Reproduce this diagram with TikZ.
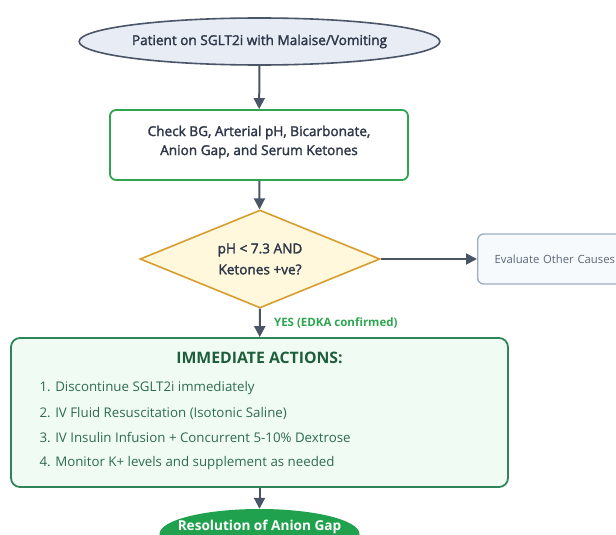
\documentclass[tikz,border=0pt]{standalone}
\usepackage{fontspec}
\setmainfont{Open Sans}
\newfontfamily\semib{Open Sans}[FakeBold=2]
\usetikzlibrary{shapes.geometric,arrows.meta}
\definecolor{slate}{HTML}{4A5568}
\definecolor{ink}{HTML}{2D3748}
\definecolor{startfill}{HTML}{E8EDF5}
\definecolor{grn}{HTML}{2FA550}
\definecolor{dgrn}{HTML}{2F855A}
\definecolor{actfill}{HTML}{F0FBF3}
\definecolor{acttitle}{HTML}{1F5E3A}
\definecolor{acttext}{HTML}{2E6B4F}
\definecolor{decfill}{HTML}{FFF8DC}
\definecolor{decline}{HTML}{D69E2E}
\definecolor{grayline}{HTML}{A0AEC0}
\definecolor{grayfill}{HTML}{F7FAFC}
\definecolor{graytext}{HTML}{5A6678}
\definecolor{endfill}{HTML}{1FA14D}
\tikzset{
  conn/.style={draw=slate, line width=2pt, -{Triangle[width=11pt,length=11pt]}},
  startell/.style={ellipse, draw=slate, fill=startfill, line width=1.6pt, minimum width=303pt, minimum height=47pt, inner sep=0pt, text=ink, font=\semib\fontsize{13.6}{16}\selectfont},
  checkbox/.style={rectangle, rounded corners=6pt, draw=grn, fill=white, line width=1.8pt, minimum width=298pt, minimum height=70pt},
  checktext/.style={align=center, text=ink, font=\semib\fontsize{13.6}{19}\selectfont},
  decbox/.style={diamond, draw=decline, fill=decfill, line width=1.6pt, minimum width=240pt, minimum height=98pt, inner sep=0pt},
  dectext/.style={align=center, text=ink, font=\semib\fontsize{13.6}{21}\selectfont},
  otherbox/.style={rectangle, rounded corners=6pt, draw=grayline, fill=grayfill, line width=1.4pt, text width=150pt, inner xsep=17pt, minimum height=50pt, inner ysep=0pt, align=left, text=graytext, font=\fontsize{11.3}{13}\selectfont},
  actbox/.style={rectangle, rounded corners=9pt, draw=dgrn, fill=actfill, line width=1.8pt, minimum width=497pt, minimum height=149pt},
  acttitlest/.style={text=acttitle, font=\bfseries\fontsize{15.8}{18}\selectfont},
  actitem/.style={anchor=west, text=acttext, font=\fontsize{13.3}{15}\selectfont},
  endell/.style={ellipse, fill=endfill, minimum width=200pt, minimum height=50pt, inner sep=0pt},
}
\begin{document}
\begin{tikzpicture}[x=1pt,y=-1pt]
\clip (0,0) rectangle (616,535);
\fill[white] (0,0) rectangle (616,535);
\node[startell] (start) at (259.5,41.5) {Patient on SGLT2i with Malaise/Vomiting};
\node[checkbox] (check) at (259,145) {};
\node[checktext] (checkt) at (259,142) {Check BG, Arterial pH, Bicarbonate,\\Anion Gap, and Serum Ketones};
\node[decbox] (dec) at (260,259) {};
\node[dectext] (dect) at (260,259) {pH < 7.3 AND\\Ketones +ve?};
\node[otherbox, anchor=west] (other) at (477,259) {Evaluate Other Causes};
\node[actbox] (act) at (259.5,412.5) {};
\node[acttitlest] (acttitle) at (259.5,358) {IMMEDIATE ACTIONS:};
\node[actitem] (i1) at (36,388) {1. Discontinue SGLT2i immediately};
\node[actitem] (i2) at (36,413) {2. IV Fluid Resuscitation (Isotonic Saline)};
\node[actitem] (i3) at (36,438) {3. IV Insulin Infusion + Concurrent 5-10\% Dextrose};
\node[actitem] (i4) at (36,463) {4. Monitor K+ levels and supplement as needed};
\node[endell] (res) at (259.5,534) {};
\node[text=white, font=\bfseries\fontsize{13.6}{15}\selectfont] (restext) at (259.5,527) {Resolution of Anion Gap};
\draw[conn] (start) -- (check);
\draw[conn] (check) -- (dec);
\draw[conn] (dec) -- (other);
\draw[conn] (dec) -- node[right, xshift=10pt, text=grn, font=\bfseries\fontsize{11.5}{12}\selectfont] (yes) {YES (EDKA confirmed)} (act);
\draw[conn] (act) -- (res);
\end{tikzpicture}
\end{document}
